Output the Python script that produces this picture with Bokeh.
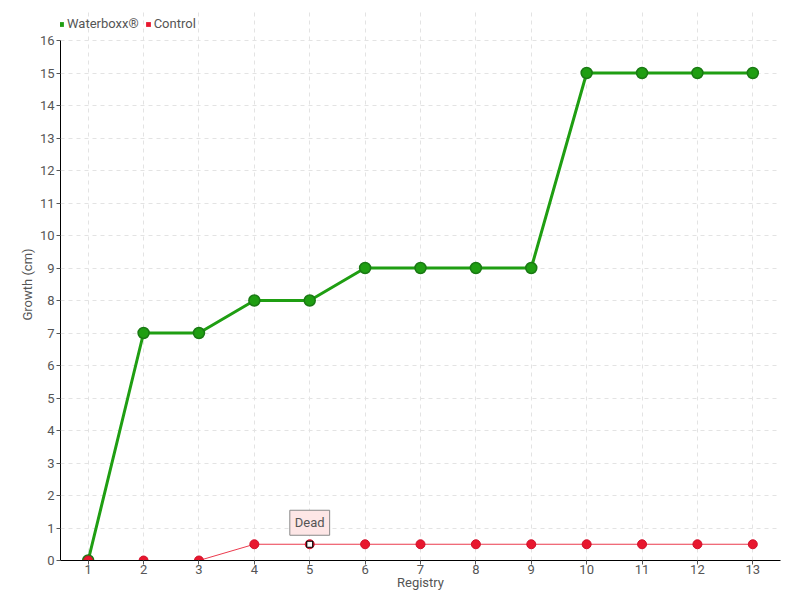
from bokeh.plotting import figure
from bokeh.models import Range1d, FixedTicker, Legend, LegendItem, Label, ColumnDataSource
from bokeh.embed import file_html
from bokeh.resources import INLINE

registry = list(range(1, 14))
waterboxx = [0, 7, 7, 8, 8, 9, 9, 9, 9, 15, 15, 15, 15]
control = [0, 0, 0, 0.5, 0.5, 0.5, 0.5, 0.5, 0.5, 0.5, 0.5, 0.5, 0.5]
y_ticks = list(range(0, 17))
y_max = 16
dead_index = 4
dead_label = "Dead"

FONT = "Roboto"
GREEN = "#1f9e12"
GREEN_DARK = "#1a7a14"
RED = "#e8172e"

WIDTH = 800
HEIGHT = 600
BORDER_TOP = 8
BORDER_BOTTOM = 40
PLOT_H = 520  # pixels used by 0..16; frame extends above for the legend
frame_h = HEIGHT - BORDER_TOP - BORDER_BOTTOM
y_end = y_max * frame_h / PLOT_H

p = figure(width=WIDTH, height=HEIGHT, output_backend="svg", toolbar_location=None,
           x_range=Range1d(0.5, 13.5), y_range=Range1d(0, y_end),
           min_border_left=60, min_border_right=20,
           min_border_top=BORDER_TOP, min_border_bottom=BORDER_BOTTOM)
p.outline_line_color = None
p.background_fill_color = "white"

for ax in (p.xaxis, p.yaxis):
    ax.axis_line_color = "black"
    ax.axis_line_width = 1
    ax.major_tick_line_color = "#555555"
    ax.major_tick_in = 0
    ax.major_tick_out = 4
    ax.minor_tick_line_color = None
    ax.major_label_text_font = FONT
    ax.major_label_text_font_size = "13px"
    ax.major_label_text_color = "#555555"
    ax.axis_label_text_font = FONT
    ax.axis_label_text_font_size = "13px"
    ax.axis_label_text_color = "#555555"
    ax.axis_label_text_font_style = "normal"

p.yaxis.bounds = (0, y_max)
p.xaxis.ticker = FixedTicker(ticks=registry)
p.yaxis.ticker = FixedTicker(ticks=y_ticks)
p.xaxis.axis_label = "Registry"
p.yaxis.axis_label = "Growth (cm)"
p.xaxis.axis_label_standoff = -2
p.yaxis.axis_label_standoff = 2
p.xaxis.major_label_standoff = 0
p.yaxis.major_label_standoff = 2

p.xgrid.grid_line_color = "#e3e3e3"
p.ygrid.grid_line_color = "#e3e3e3"
p.xgrid.grid_line_dash = "4 4"
p.ygrid.grid_line_dash = "4 4"
p.xgrid.bounds = (0, y_max)

src_w = ColumnDataSource(dict(x=registry, y=waterboxx))
src_c = ColumnDataSource(dict(x=registry, y=control))

lw = p.line("x", "y", source=src_w, line_color=GREEN, line_width=3)
cw = p.scatter("x", "y", source=src_w, size=11, fill_color=GREEN, line_color=GREEN_DARK, line_width=1.5)
lc = p.line("x", "y", source=src_c, line_color=RED, line_width=1, line_alpha=0.85)
cc = p.scatter("x", "y", source=src_c, size=9, fill_color=RED, line_color="#d0102a", line_width=1)

# Dead marker
p.scatter([registry[dead_index]], [control[dead_index]], marker="square", size=6,
          fill_color="white", line_color="black", line_width=1.2)

lab = Label(x=registry[dead_index], y=control[dead_index], text=dead_label,
            x_offset=0, y_offset=9, text_align="center", text_baseline="bottom",
            text_font=FONT, text_font_size="13px", text_color="#555555",
            background_fill_color="#fde6e6", border_line_color="#888888",
            padding=5)
p.add_layout(lab)

# legend swatches: zero-area quads on the series data (invisible in the plot,
# drawn as filled boxes in the legend)
lg_w = p.quad(left="x", right="x", top="y", bottom="y", source=src_w,
              fill_color=GREEN, line_color=None)
lg_c = p.quad(left="x", right="x", top="y", bottom="y", source=src_c,
              fill_color=RED, line_color=None)
LEG_PAD = 2
LEG_H = 14 + 2 * LEG_PAD
legend = Legend(items=[LegendItem(label="Waterboxx®", renderers=[lg_w]),
                       LegendItem(label="Control", renderers=[lg_c])],
                orientation="horizontal", location=(-2, frame_h - 5 - LEG_H),
                border_line_color=None, background_fill_alpha=0,
                label_text_font=FONT, label_text_font_size="13px", label_text_color="#555555",
                glyph_width=6, glyph_height=6, spacing=6, padding=LEG_PAD, margin=0,
                label_standoff=3, label_height=14)
p.add_layout(legend, "center")

open("out.html", "w").write(file_html(p, INLINE))
